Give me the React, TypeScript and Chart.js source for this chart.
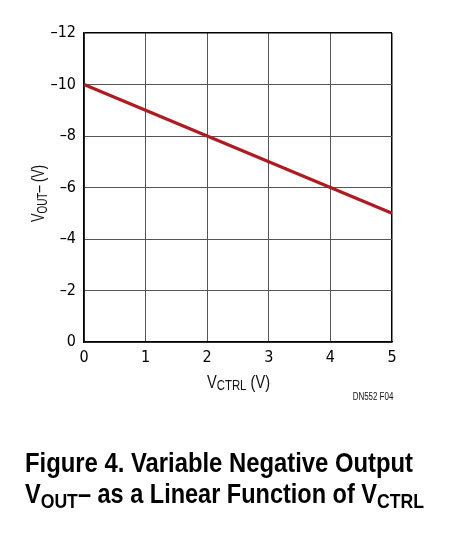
import React, { useEffect, useRef } from "react";
import { Chart, registerables } from "chart.js";

Chart.register(...registerables);

// values
const vCtrl = [0, 1, 2, 3, 4, 5];
const vOut = [-10, -9, -8, -7, -6, -5];
const xTicks = [0, 1, 2, 3, 4, 5];
const yTicks = [0, -2, -4, -6, -8, -10, -12];

const sans = '"Liberation Sans", Arial, sans-serif';
const narrow =
  '"Liberation Sans Narrow", "DejaVu Sans Condensed", "Liberation Sans", sans-serif';

type Run = { text: string; size: number; dy?: number; bold?: boolean };

// draw a row of text pieces, squeezed horizontally to a target width
function drawRuns(
  ctx: CanvasRenderingContext2D,
  runs: Run[],
  x: number,
  y: number,
  target: number
) {
  const widths = runs.map((r) => {
    ctx.font = `${r.bold ? "bold " : ""}${r.size}px ${sans}`;
    return ctx.measureText(r.text).width;
  });
  const total = widths.reduce((a, b) => a + b, 0);
  const sx = target / total;
  let cx = x;
  runs.forEach((r, i) => {
    ctx.font = `${r.bold ? "bold " : ""}${r.size}px ${sans}`;
    ctx.save();
    ctx.translate(cx, y + (r.dy || 0));
    ctx.scale(sx, 1);
    ctx.fillText(r.text, 0, 0);
    ctx.restore();
    cx += widths[i] * sx;
  });
}

const figureText = {
  id: "figureText",
  afterDraw(chart: Chart) {
    const ctx = chart.ctx;
    ctx.save();
    ctx.fillStyle = "#111";
    ctx.textAlign = "left";
    ctx.textBaseline = "alphabetic";

    // x axis title
    drawRuns(
      ctx,
      [
        { text: "V", size: 18 },
        { text: "CTRL", size: 14, dy: 2.5 },
        { text: " (V)", size: 18 },
      ],
      207,
      387.5,
      63
    );

    // y axis title, rotated
    ctx.save();
    ctx.translate(44, 222);
    ctx.rotate(-Math.PI / 2);
    drawRuns(
      ctx,
      [
        { text: "V", size: 18 },
        { text: "OUT", size: 14, dy: 2.5 },
        { text: "–", size: 18 },
        { text: " (V)", size: 18 },
      ],
      0,
      0,
      57
    );
    ctx.restore();

    drawRuns(ctx, [{ text: "DN552 F04", size: 10 }], 352.7, 400, 40.6);

    // caption
    ctx.fillStyle = "#000";
    drawRuns(
      ctx,
      [{ text: "Figure 4. Variable Negative Output", size: 28, bold: true }],
      25,
      472,
      388
    );
    drawRuns(
      ctx,
      [
        { text: "V", size: 28, bold: true },
        { text: "OUT", size: 21, dy: 5.5, bold: true },
        { text: "–", size: 28, bold: true },
        { text: " as a Linear Function of V", size: 28, bold: true },
        { text: "CTRL", size: 21, dy: 5.5, bold: true },
      ],
      25,
      502.5,
      399
    );
    ctx.restore();
  },
};

const App: React.FC = () => {
  const canvasRef = useRef<HTMLCanvasElement>(null);

  useEffect(() => {
    if (!canvasRef.current) return;
    document.body.style.margin = "0";

    const tickFont = { family: narrow, size: 16 };

    const chart = new Chart(canvasRef.current, {
      type: "line",
      data: {
        datasets: [
          {
            data: vCtrl.map((x, i) => ({ x, y: vOut[i] })),
            borderColor: "#ac1c23",
            borderWidth: 3.2,
            pointRadius: 0,
            tension: 0,
          },
        ],
      },
      options: {
        animation: false,
        responsive: false,
        layout: { padding: { top: 33, right: 57, bottom: 155, left: 0 } },
        plugins: {
          legend: { display: false },
          tooltip: { enabled: false },
        },
        scales: {
          x: {
            type: "linear",
            min: 0,
            max: 5,
            afterBuildTicks: (s: any) => {
              s.ticks = xTicks.map((value) => ({ value }));
            },
            afterFit: (s: any) => {
              s.height = 40;
            },
            grid: {
              drawTicks: false,
              color: (c: any) => (c.tick && c.tick.value === 5 ? "#000" : "#555"),
              lineWidth: (c: any) => (c.tick && c.tick.value === 5 ? 1.5 : 1),
            },
            border: { color: "#000", width: 1.5 },
            ticks: {
              padding: 6,
              color: "#000",
              font: tickFont,
              maxRotation: 0,
              callback: (v: any) => String(v),
            },
          },
          y: {
            type: "linear",
            reverse: true,
            min: -12,
            max: 0,
            afterBuildTicks: (s: any) => {
              s.ticks = yTicks.map((value) => ({ value }));
            },
            afterFit: (s: any) => {
              s.width = 84;
            },
            grid: {
              drawTicks: false,
              color: (c: any) => (c.tick && c.tick.value === -12 ? "#000" : "#555"),
              lineWidth: (c: any) => (c.tick && c.tick.value === -12 ? 1.5 : 1),
            },
            border: { color: "#000", width: 1.5 },
            ticks: {
              padding: 8,
              color: "#000",
              font: tickFont,
              callback: (v: any) => (v < 0 ? "–" + Math.abs(v) : String(v)),
            },
          },
        },
      },
      plugins: [figureText],
    });

    return () => {
      chart.destroy();
    };
  }, []);

  return <canvas ref={canvasRef} width={449} height={537}></canvas>;
};

export default App;
